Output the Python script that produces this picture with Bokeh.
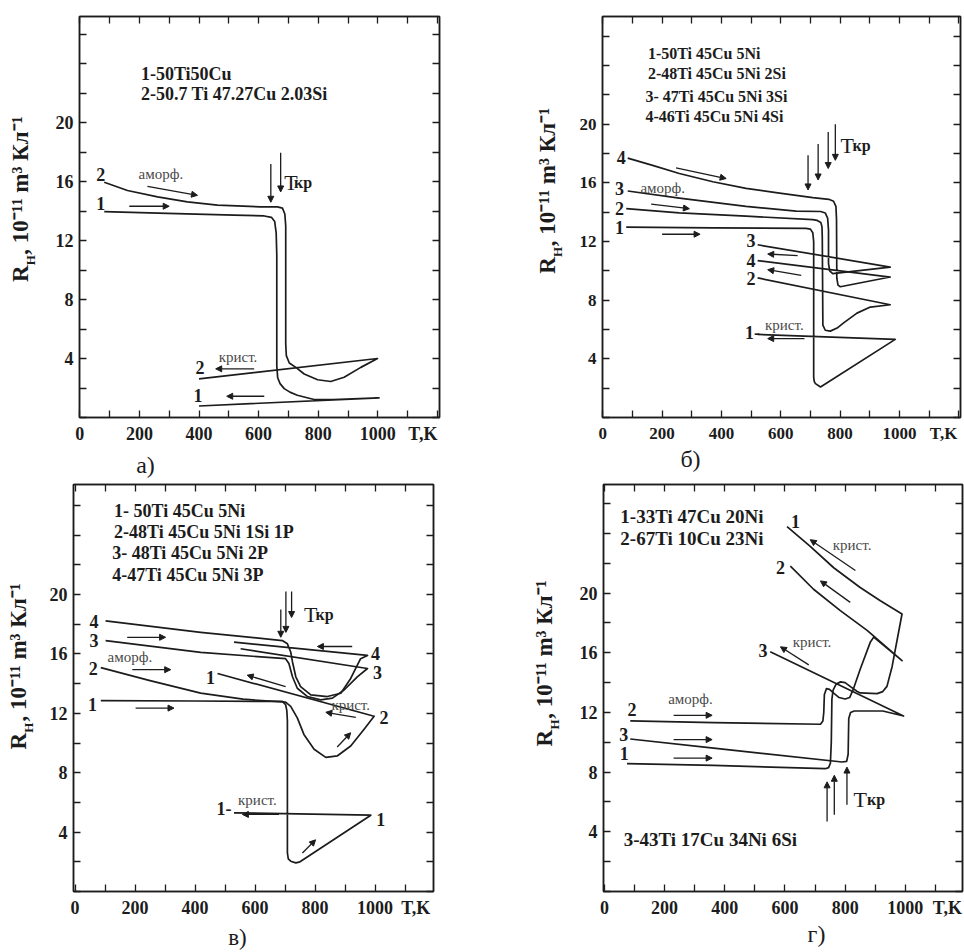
from bokeh.plotting import figure
from bokeh.models import LinearAxis, FixedTicker, Range1d, Arrow, NormalHead, Label, ColumnDataSource
from bokeh.layouts import row, column
from bokeh.embed import file_html
from bokeh.resources import INLINE

# ---------------- shared ticks / axis texts ----------------
x_tick_labels = [0, 200, 400, 600, 800, 1000]
x_minor_ticks = list(range(0, 1300, 100))
y_tick_labels = [4, 8, 12, 16, 20]
y_minor_ticks = list(range(0, 28, 2))
x_unit_text = "T,K"
y_axis_main = "R"
y_axis_sub = "H"
y_axis_rest = ", 10⁻¹¹ m³ Кл⁻¹"
panel_letters = ["а)", "б)", "в)", "г)"]

# ---------------- panel а) ----------------
a1_T = [82, 294, 518, 619, 643, 654, 659, 661, 661, 664, 672, 686, 705, 730, 786, 850, 1004, 400]
a1_R = [13.96, 13.84, 13.73, 13.67, 13.58, 13.29, 12.5, 11.0, 3.5, 2.7, 2.3, 1.96, 1.72, 1.51, 1.22, 1.22, 1.33, 0.78]
a2_T = [82, 160, 261, 361, 462, 607, 663, 680, 688, 691, 691, 693, 703, 725, 753, 798, 842, 887, 943, 999, 400]
a2_R = [15.96, 15.4, 14.96, 14.62, 14.4, 14.29, 14.29, 14.2, 13.8, 13.0, 5.0, 4.2, 3.7, 3.4, 2.95, 2.56, 2.44, 2.73, 3.4, 4.0, 2.62]
a_arrows = [(227, 15.68, 395, 15.07), (166, 14.33, 300, 14.33), (585, 3.3, 456, 3.3),
            (619, 1.44, 493, 1.44), (641, 17.2, 641, 14.6), (674, 17.96, 674, 15.3)]
a_legend = [("1-50Ti50Cu", 205, 23.3), ("2-50.7 Ti 47.27Cu 2.03Si", 205, 21.96)]
a_nums = [("2", 70, 16.5), ("1", 70, 14.5), ("2", 403, 3.4), ("1", 397, 1.5)]
a_notes = [("аморф.", 272, 16.5), ("крист.", 531, 4.07)]
a_tkr = (686, 15.96, 719)

# ---------------- panel б) ----------------
b1_T = [79, 371, 685, 700, 708, 711, 711, 713, 717, 734, 986, 522]
b1_R = [12.99, 12.94, 12.9, 12.85, 12.6, 12.0, 2.76, 2.45, 2.31, 2.08, 5.33, 5.67]
b2_T = [79, 258, 483, 708, 723, 735, 739, 740, 742, 750, 767, 790, 812, 857, 902, 969, 522]
b2_R = [14.24, 13.95, 13.73, 13.5, 13.44, 13.3, 13.0, 12.3, 6.3, 5.95, 5.89, 6.1, 6.45, 7.12, 7.53, 7.69, 9.52]
b3_T = [84, 258, 483, 652, 735, 750, 758, 761, 761, 765, 775, 969, 522]
b3_R = [15.45, 14.96, 14.4, 14.07, 14.05, 13.95, 13.6, 12.8, 10.5, 10.0, 9.81, 10.26, 11.78]
b4_T = [84, 168, 258, 371, 483, 596, 708, 762, 778, 786, 788, 789, 793, 801, 969, 522]
b4_R = [17.69, 17.2, 16.64, 16.08, 15.63, 15.3, 15.0, 14.88, 14.75, 14.4, 13.5, 9.5, 9.03, 8.92, 9.58, 10.7]
b_arrows = [(247, 17.02, 416, 16.3), (163, 14.56, 292, 14.24), (200, 12.5, 328, 12.5),
            (657, 11.04, 556, 11.15), (669, 9.7, 556, 10.08), (680, 5.38, 556, 5.38),
            (692, 17.88, 692, 15.52), (726, 18.66, 726, 16.2), (760, 19.47, 760, 16.98), (784, 20.0, 784, 17.54)]
b_legend = [("1-50Ti 45Cu 5Ni", 152, 24.8), ("2-48Ti 45Cu 5Ni 2Si", 152, 23.43),
            ("3- 47Ti 45Cu 5Ni 3Si", 144, 21.9), ("4-46Ti 45Cu 5Ni 4Si", 144, 20.5)]
b_nums = [("4", 62, 17.76), ("3", 56, 15.59), ("2", 56, 14.24), ("1", 56, 12.94),
          ("3", 500, 12.05), ("4", 500, 10.7), ("2", 500, 9.47), ("1-", 505, 5.78)]
b_notes = [("аморф.", 202, 15.63), ("крист.", 612, 6.34)]
b_tkr = (801, 18.53, 842)

# ---------------- panel в) ----------------
c1_T = [86, 400, 691, 702, 706, 708, 708, 711, 719, 736, 750, 986, 530]
c1_R = [12.86, 12.83, 12.8, 12.58, 12.2, 11.5, 2.6, 2.2, 2.04, 1.93, 2.0, 5.14, 5.3]
c2_T = [86, 250, 419, 560, 702, 719, 741, 763, 797, 836, 875, 919, 963, 997, 475]
c2_R = [15.08, 14.2, 13.36, 12.95, 12.75, 12.47, 11.69, 10.58, 9.58, 9.03, 9.14, 9.8, 10.91, 11.8, 14.68]
c3_T = [102, 419, 702, 713, 725, 741, 775, 819, 858, 897, 941, 975, 552]
c3_R = [16.9, 16.1, 15.68, 15.35, 14.46, 13.69, 13.13, 12.91, 13.02, 13.57, 14.46, 15.02, 16.35]
c4_T = [102, 419, 691, 708, 719, 725, 736, 752, 786, 841, 886, 919, 952, 975, 530]
c4_R = [18.23, 17.45, 16.9, 16.68, 16.13, 15.46, 14.46, 13.8, 13.24, 13.13, 13.35, 14.35, 15.68, 15.9, 16.79]
c_arrows = [(174, 17.12, 302, 17.12), (191, 14.94, 319, 14.94), (202, 12.35, 330, 12.35),
            (924, 16.5, 808, 16.5), (702, 13.79, 574, 14.57), (936, 11.73, 836, 12.07),
            (680, 5.19, 558, 5.19), (758, 2.59, 802, 3.48), (874, 9.73, 919, 10.69),
            (686, 19.0, 686, 17.12), (703, 20.2, 703, 17.45), (722, 20.2, 722, 18.45)]
c_legend = [("1- 50Ti 45Cu 5Ni", 130, 25.65), ("2-48Ti 45Cu 5Ni 1Si 1P", 130, 24.21),
            ("3- 48Ti 45Cu 5Ni 2P", 124, 22.77), ("4-47Ti 45Cu 5Ni 3P", 124, 21.33)]
c_nums = [("4", 63, 18.2), ("3", 63, 16.9), ("2", 61, 15.0), ("1", 58, 12.57),
          ("4", 1002, 16.0), ("3", 1008, 14.75), ("2", 1030, 11.69), ("1", 452, 14.39),
          ("1-", 497, 5.59), ("1", 1019, 4.86)]
c_notes = [("аморф.", 183, 15.79), ("крист.", 919, 12.57), ("крист.", 608, 6.14)]
c_tkr = (763, 18.63, 802)

# ---------------- panel г) ----------------
d1_T = [75, 363, 734, 745, 751, 754, 756, 760, 770, 785, 800, 820, 839, 850, 906, 925, 939, 956, 989,
        917, 850, 762, 684, 607]
d1_R = [8.57, 8.45, 8.23, 8.3, 8.6, 10.0, 12.9, 13.5, 13.9, 14.05, 14.0, 13.7, 13.42, 13.31, 13.26, 13.4, 13.75, 15.07, 18.6,
        19.49, 20.38, 21.7, 23.13, 24.46]
d2_T = [86, 363, 718, 726, 729, 731, 738, 748, 762, 780, 800, 815, 828, 850, 884, 895, 989, 873, 784, 695, 618]
d2_R = [11.43, 11.32, 11.21, 11.43, 12.0, 13.2, 13.6, 13.55, 13.3, 13.0, 12.9, 13.0, 13.6, 14.9, 16.73, 17.05, 15.47,
        17.5, 18.83, 20.26, 21.81]
d3_T = [86, 363, 790, 805, 810, 812, 818, 830, 925, 994, 551]
d3_R = [10.22, 9.61, 8.68, 8.72, 9.2, 11.6, 12.0, 12.1, 12.1, 11.76, 16.07]
d_arrows = [(230, 11.81, 358, 11.81), (230, 10.18, 358, 10.18), (230, 8.94, 358, 8.94),
            (834, 21.52, 684, 23.58), (817, 19.38, 718, 20.82), (679, 15.19, 585, 16.4),
            (740, 4.70, 740, 7.35), (764, 5.14, 764, 7.79), (806, 5.81, 806, 8.34)]
d_legend = [("1-33Ti 47Cu 20Ni", 53, 25.12), ("2-67Ti 10Cu 23Ni", 53, 23.69), ("3-43Ti 17Cu 34Ni 6Si", 64, 3.49)]
d_nums = [("1", 635, 24.8), ("2", 585, 21.7), ("3", 527, 16.18), ("2", 92, 12.2), ("3", 64, 10.55), ("1", 66, 9.23)]
d_notes = [("крист.", 823, 23.25), ("крист.", 690, 16.73), ("аморф.", 286, 12.87)]
d_tkr = (828, 6.14, 873)

# ---------------- drawing ----------------
FONT = "Liberation Serif"
INK = "#1c1c1c"
NOTE = "#4a4a4a"

# page geometry of each panel (canvas origin, size, frame box) and its data ranges
ga = dict(ox=0, oy=0, W=488, H=480, fl=79, ft=13, fw=360, fh=408, xs=-1, xe=1207, ye=27.2)
gb = dict(ox=488, oy=0, W=476, H=480, fl=602, ft=16, fw=358, fh=407, xs=-1, xe=1206, ye=27.35)
gc = dict(ox=0, oy=480, W=488, H=472, fl=73, ft=484, fw=360, fh=412, xs=-5, xe=1195, ye=27.41)
gd = dict(ox=488, oy=480, W=476, H=472, fl=603, ft=483, fw=359, fh=412, xs=-3, xe=1190, ye=27.28)


def pg2d(g, X, Y):
    T = g["xs"] + (X - g["fl"]) * (g["xe"] - g["xs"]) / g["fw"]
    R = (g["ft"] + g["fh"] - Y) * g["ye"] / g["fh"]
    return round(T, 2), round(R, 2)


def lab(p, text, x, y, size, bold=True, align="center", baseline="middle", color=INK):
    p.add_layout(Label(x=x, y=y, text=text, text_font=FONT, text_font_size=f"{size}px",
                       text_font_style="bold" if bold else "normal", text_align=align,
                       text_baseline=baseline, text_color=color))


def bare(**kw):
    d = dict(major_tick_in=0, major_tick_out=0, minor_tick_in=0, minor_tick_out=0,
             axis_line_color=None, major_tick_line_color=None, minor_tick_line_color=None)
    d.update(kw)
    return d


def text_axis(ticks, labels, size, standoff, bold=True, vertical=False):
    kw = dict(ticker=FixedTicker(ticks=ticks, minor_ticks=[]),
              major_label_overrides=dict(zip(ticks, labels)), major_label_standoff=standoff,
              major_label_text_font=FONT, major_label_text_font_style="bold" if bold else "normal",
              major_label_text_font_size=f"{size}px", major_label_text_color=INK)
    if vertical:
        kw["major_label_orientation"] = "vertical"
    return LinearAxis(**kw, **bare())


def make_panel(g, tk_T, fs, letter, letter_x, letter_fs, letter_so, ylab_bottom, sub_so):
    p = figure(width=g["W"], height=g["H"],
               x_range=Range1d(g["xs"], g["xe"]), y_range=Range1d(0, g["ye"]),
               x_axis_type=None, y_axis_type=None, output_backend="svg", toolbar_location=None,
               min_border_left=g["fl"] - g["ox"], min_border_top=g["ft"] - g["oy"],
               min_border_right=g["ox"] + g["W"] - g["fl"] - g["fw"],
               min_border_bottom=g["oy"] + g["H"] - g["ft"] - g["fh"])
    p.outline_line_color = INK
    p.outline_line_width = 1.5
    p.background_fill_color = "white"
    p.border_fill_color = "white"
    common = dict(major_tick_in=0, major_tick_out=0, minor_tick_in=7, minor_tick_out=0,
                  axis_line_color=INK, axis_line_width=1.5,
                  minor_tick_line_color=INK, minor_tick_line_width=1.3)
    lbl = dict(major_label_text_font=FONT, major_label_text_font_style="bold",
               major_label_text_font_size=f"{fs}px", major_label_text_color=INK, major_label_standoff=6)
    xb = LinearAxis(ticker=FixedTicker(ticks=x_tick_labels + [tk_T], minor_ticks=x_minor_ticks),
                    major_label_overrides={tk_T: x_unit_text}, **lbl, **common)
    p.add_layout(xb, "below")
    yl = LinearAxis(ticker=FixedTicker(ticks=y_tick_labels, minor_ticks=y_minor_ticks), **lbl, **common)
    p.add_layout(yl, "left")
    xa = LinearAxis(ticker=FixedTicker(ticks=[], minor_ticks=x_minor_ticks), major_label_standoff=0,
                    major_label_text_font_size="0px", **common)
    p.add_layout(xa, "above")
    yr = LinearAxis(ticker=FixedTicker(ticks=[], minor_ticks=y_minor_ticks), major_label_standoff=0,
                    major_label_text_font_size="0px", **common)
    p.add_layout(yr, "right")
    # rotated quantity label "R_H, 10^-11 m^3 Кл^-1": subscript band first, main text band overlapping it
    _, r_main = pg2d(g, g["fl"], ylab_bottom - 8.3)
    _, r_sub = pg2d(g, g["fl"], ylab_bottom - 22)
    _, r_rest = pg2d(g, g["fl"], ylab_bottom - 98)
    p.add_layout(text_axis([r_sub], [y_axis_sub], 13, sub_so, vertical=True), "left")
    p.add_layout(text_axis([r_main, r_rest], [y_axis_main, y_axis_rest], 23, -13, vertical=True), "left")
    # panel letter below the temperature axis
    Tl, _ = pg2d(g, letter_x, 0)
    p.add_layout(text_axis([Tl], [letter], letter_fs, letter_so, bold=False), "below")
    return p


def draw_curves(p, curves):
    for T, R in curves:
        p.line(T, R, line_color=INK, line_width=1.7, line_join="round")


def draw_arrows(p, arr):
    src = ColumnDataSource(dict(x0=[a[0] for a in arr], y0=[a[1] for a in arr],
                                x1=[a[2] for a in arr], y1=[a[3] for a in arr]))
    p.add_layout(Arrow(source=src, x_start="x0", y_start="y0", x_end="x1", y_end="y1",
                       end=NormalHead(size=6, fill_color=INK, line_color=INK, line_width=1),
                       line_color=INK, line_width=1.3))


def draw_texts(p, legend, lfs, nums, notes, tkr):
    for t, x, y in legend:
        lab(p, t, x, y, lfs, align="left")
    for t, x, y in nums:
        lab(p, t, x, y, 18)
    for t, x, y in notes:
        lab(p, t, x, y, 15, bold=False, color=NOTE)
    lab(p, "T", tkr[0], tkr[1], 22, bold=False, align="left", baseline="alphabetic")
    lab(p, "кр", tkr[2], tkr[1], 16, align="left", baseline="alphabetic")


pa = make_panel(ga, 1151, 18, panel_letters[0], 145, 24, 5, 283, 14)
draw_curves(pa, [(a1_T, a1_R), (a2_T, a2_R)])
draw_arrows(pa, a_arrows)
draw_texts(pa, a_legend, 18, a_nums, a_notes, a_tkr)

pb = make_panel(gb, 1149, 17, panel_letters[1], 690, 24, 0, 277, 11)
draw_curves(pb, [(b1_T, b1_R), (b2_T, b2_R), (b3_T, b3_R), (b4_T, b4_R)])
draw_arrows(pb, b_arrows)
draw_texts(pb, b_legend, 16, b_nums, b_notes, b_tkr)

pc = make_panel(gc, 1136, 18, panel_letters[2], 237, 23, 4, 752, 10)
draw_curves(pc, [(c1_T, c1_R), (c2_T, c2_R), (c3_T, c3_R), (c4_T, c4_R)])
draw_arrows(pc, c_arrows)
draw_texts(pc, c_legend, 18, c_nums, c_notes, c_tkr)

pd = make_panel(gd, 1140, 18, panel_letters[3], 816, 24, 0, 748, 14)
draw_curves(pd, [(d1_T, d1_R), (d2_T, d2_R), (d3_T, d3_R)])
draw_arrows(pd, d_arrows)
draw_texts(pd, d_legend, 19, d_nums, d_notes, d_tkr)

layout = column(row(pa, pb, spacing=0), row(pc, pd, spacing=0), spacing=0)
with open("out.html", "w", encoding="utf-8") as fh:
    fh.write(file_html(layout, INLINE, "Hall coefficient"))
